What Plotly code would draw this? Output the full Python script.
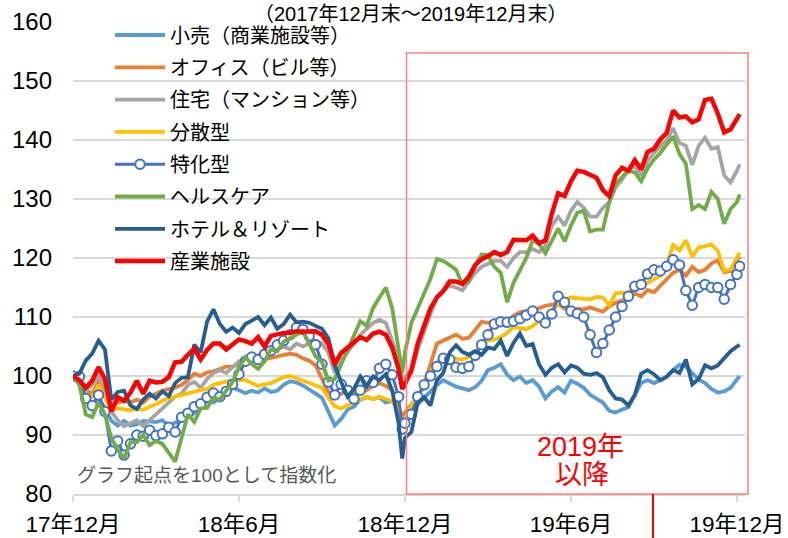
import pandas as pd
import plotly.graph_objects as go

# ---- dates (weekly, plus the Christmas 2018 low and the final day) ----
weekly = list(pd.date_range("2017-12-29", "2019-12-27", freq="W-FRI"))
dates = sorted(weekly + [pd.Timestamp("2018-12-25"), pd.Timestamp("2019-12-30")])

tick_dates = ["2017-12-29", "2018-06-29", "2018-12-28", "2019-06-28", "2019-12-27"]
tick_labels = ["17年12月", "18年6月", "18年12月", "19年6月", "19年12月"]

names = ["小売（商業施設等）", "オフィス（ビル等）", "住宅（マンション等）", "分散型",
         "特化型", "ヘルスケア", "ホテル＆リゾート", "産業施設"]
colors = ["#5B9BD5", "#ED7D31", "#A5A5A5", "#FFC000", "#4472C4", "#70AD47", "#255E91", "#FF0000"]

retail = [100, 98.8, 96.0, 94.4, 96.3, 94.6, 92.4, 91.6, 92.4, 91.6, 91.8, 92.4, 92.3, 92.2, 92.5, 91.6,
          92.1, 92.7, 93.1, 93.7, 94.7, 95.9, 95.5, 96.4, 97.0, 98.0, 97.6, 97.1, 97.5, 97.2, 97.9, 97.3,
          97.5, 98.5, 99.1, 98.9, 98.4, 97.6, 97.0, 96.3, 94.0, 91.6, 92.7, 94.3, 94.8, 96.0, 96.4, 96.1,
          96.4, 95.5, 95.8, 94.0, 92.2,
          92.8, 94.0, 95.2, 96.3, 97.6, 98.5, 99.3, 98.8, 98.2, 97.9, 97.6, 98.1, 99.2, 101.0, 101.4, 102.0,
          100.2, 99.3, 99.9, 98.8, 99.3, 98.2, 96.2, 97.4, 98.1, 97.2, 99.2, 98.7, 98.0, 96.8, 96.2, 95.5,
          94.1, 93.8, 94.3, 94.7, 96.8, 98.8, 99.3, 98.8, 99.3, 99.8, 101.0, 101.9, 101.6, 100.5, 99.4, 98.8,
          97.8, 97.2, 97.4, 98.0, 99.5, 100.0]

office = [100, 99.5, 97.5, 97.0, 99.0, 97.5, 95.0, 95.5, 95.8, 95.5, 96.0, 95.5, 96.5, 97.0, 97.5, 97.8,
          98.0, 98.5, 99.3, 100.4, 100.0, 100.6, 100.8, 101.2, 101.6, 101.6, 102.0, 103.2, 102.8, 102.5, 102.8, 103.0,
          103.3, 103.6, 103.8, 103.6, 103.0, 102.6, 101.8, 99.5, 97.3, 96.5, 97.0, 97.5, 97.3, 97.1, 97.6, 98.3,
          98.8, 98.3, 97.6, 95.0, 93.0,
          93.8, 95.2, 96.5, 98.5, 101.8, 105.5, 106.0, 106.5, 107.0, 106.3, 106.5, 107.8, 109.2, 109.0, 109.2, 109.1,
          109.2, 110.2, 110.8, 111.0, 111.2, 111.5, 111.9, 112.1, 112.3, 111.4, 111.3, 111.4, 111.3, 111.6, 111.2, 110.9,
          111.8, 112.4, 112.8, 113.2, 114.0, 113.5, 114.6, 114.2, 115.3, 116.4, 117.5, 118.0, 117.0, 118.5, 117.6, 118.0,
          119.1, 119.6, 117.6, 117.8, 119.5, 120.3]

residential = [100, 99.5, 97.5, 98.5, 100.0, 98.0, 94.0, 92.5, 91.5, 92.0, 92.5, 91.5, 92.5, 93.5, 94.5, 95.5,
               96.5, 97.0, 98.5, 99.0, 98.0, 99.5, 100.5, 101.0, 100.5, 101.5, 102.5, 103.0, 102.5, 103.5, 102.5, 104.0,
               104.5, 105.0, 104.5, 105.5, 105.0, 105.5, 106.0, 105.5, 104.0, 100.5, 102.5, 104.0, 105.5, 107.0, 108.0, 109.0,
               109.5, 109.0, 106.0, 102.5, 99.5,
               100.0, 100.5, 104.5, 107.5, 110.5, 113.5, 114.5, 115.3, 115.0, 114.5, 116.0, 117.5, 118.5, 119.0, 119.5, 119.5,
               118.5, 120.0, 121.0, 121.0, 121.5, 121.0, 122.0, 125.5, 127.0, 125.5, 128.0, 129.5, 128.5, 127.0, 127.0, 128.5,
               129.4, 132.0, 133.3, 135.0, 135.6, 134.0, 136.5, 137.8, 139.0, 140.0, 142.0, 139.5, 139.0, 135.8, 139.0, 140.4,
               138.5, 138.8, 134.0, 132.8, 134.8, 135.9]

diversified = [100, 99.0, 97.0, 96.5, 98.5, 96.5, 94.2, 94.5, 94.3, 94.2, 94.5, 94.3, 94.8, 95.2, 95.8, 96.3,
               96.5, 96.8, 97.0, 97.3, 97.6, 97.8, 98.5, 98.8, 99.0, 99.3, 99.3, 99.3, 98.8, 98.3, 98.6, 98.8,
               99.3, 99.8, 100.0, 99.6, 99.2, 98.8, 98.5, 98.0, 96.3, 94.9, 94.5, 95.0, 95.5, 96.0, 96.5, 96.1,
               96.5, 96.1, 95.8, 94.0, 92.0,
               92.8, 95.0, 96.5, 98.2, 100.8, 102.3, 103.3, 103.5, 102.9, 102.8, 103.2, 104.2, 105.2, 106.0, 106.2, 106.6,
               107.3, 108.3, 108.1, 107.9, 108.5, 109.3, 109.4, 110.5, 112.5, 113.0, 113.3, 113.2, 113.1, 113.0, 113.4, 113.3,
               112.0, 114.0, 114.1, 114.1, 115.2, 115.3, 115.8, 116.4, 117.0, 118.8, 122.2, 121.3, 123.0, 120.2, 121.8, 122.0,
               122.3, 121.2, 117.8, 118.1, 119.9, 120.9]

specialized = [100, 99.9, 96.2, 95.0, 96.8, 94.0, 87.3, 89.0, 86.6, 88.5, 90.0, 89.8, 90.8, 89.9, 90.2, 91.3,
               90.5, 93.0, 93.7, 94.8, 95.3, 96.4, 97.1, 96.5, 97.4, 98.6, 100.3, 102.5, 103.2, 102.8, 103.7, 104.3,
               105.3, 106.0, 107.0, 108.2, 107.9, 106.8, 105.3, 102.0, 99.0, 96.8, 98.6, 97.6, 96.1, 97.6, 99.2, 98.9,
               101.3, 102.0, 100.2, 96.5, 91.0,
               92.0, 93.5, 96.5, 98.5, 100.0, 101.6, 103.0, 102.8, 101.5, 101.3, 101.6, 103.5, 105.3, 107.0, 108.8, 109.2,
               109.1, 109.3, 109.7, 110.3, 111.0, 110.0, 109.0, 110.5, 113.5, 112.5, 111.0, 110.6, 110.0, 107.0, 104.0, 105.5,
               107.8, 110.0, 111.8, 113.5, 115.2, 115.5, 117.3, 118.0, 117.8, 118.6, 119.7, 118.8, 114.5, 112.0, 115.0, 115.5,
               115.0, 115.0, 113.0, 115.5, 117.2, 118.6]

healthcare = [100, 98.5, 93.5, 93.0, 95.5, 93.5, 89.5, 87.5, 86.0, 88.8, 88.8, 90.0, 88.3, 89.0, 88.5, 87.0,
              85.5, 89.5, 93.5, 92.2, 94.5, 94.6, 96.3, 96.0, 97.6, 99.0, 101.5, 103.2, 102.0, 101.2, 102.5, 104.5,
              104.2, 105.8, 106.4, 107.0, 107.6, 105.5, 103.3, 102.4, 99.2, 99.5, 102.0, 104.5, 107.0, 109.3, 108.5, 111.5,
              113.3, 115.0, 111.5, 105.0, 100.5,
              104.0, 109.0, 111.5, 114.0, 116.5, 119.8, 119.5, 118.8, 118.0, 115.5, 116.0, 118.8, 120.6, 120.5, 118.5, 117.5,
              112.5, 115.8, 118.0, 120.0, 123.0, 122.4, 120.8, 123.0, 125.0, 122.8, 125.5, 127.7, 128.0, 124.5, 124.8, 124.8,
              129.5, 132.6, 133.6, 134.8, 134.5, 133.0, 135.2, 136.7, 137.8, 139.2, 140.6, 137.6, 136.0, 128.3, 129.0, 128.3,
              131.2, 130.0, 125.8, 128.3, 129.5, 130.8]

hotel = [100, 100.4, 102.6, 103.8, 106.0, 104.5, 96.0, 97.3, 97.5, 95.0, 94.4, 96.0, 97.0, 96.2, 97.4, 96.6,
         98.8, 99.7, 99.8, 105.3, 104.0, 109.2, 111.3, 108.8, 107.5, 108.2, 107.3, 108.8, 109.4, 110.0, 108.6, 109.9,
         108.0, 108.8, 110.4, 109.1, 109.2, 109.0, 108.5, 108.0, 106.4, 101.8, 99.0, 96.5, 97.8, 99.9, 98.3, 99.9,
         99.3, 100.3, 97.5, 92.0, 86.0,
         89.5, 90.5, 95.5, 96.4, 95.0, 99.3, 100.5, 104.0, 105.2, 104.1, 103.6, 104.2, 103.6, 104.8, 104.6, 106.0,
         103.4, 105.6, 107.2, 105.1, 105.4, 102.0, 100.2, 101.4, 102.0, 100.6, 101.8, 101.4, 100.4, 100.2, 100.5, 99.8,
         97.6, 96.2, 96.0, 95.0, 96.8, 100.4, 101.0, 100.3, 99.3, 99.9, 101.0, 100.5, 102.8, 98.6, 99.5, 101.8,
         101.3, 101.8, 103.0, 104.2, 105.0, 105.3]

industrial = [100, 99.3, 98.0, 99.2, 101.5, 99.5, 94.0, 96.4, 95.8, 97.2, 99.2, 97.0, 99.2, 98.9, 99.0, 99.8,
              102.3, 102.4, 103.6, 104.6, 102.8, 104.4, 105.5, 105.5, 104.5, 105.4, 106.2, 105.9, 105.5, 106.6, 105.0, 106.8,
              107.0, 107.3, 107.3, 107.6, 107.5, 107.5, 107.6, 107.0, 105.4, 102.0, 103.9, 104.8, 105.6, 106.6, 106.1, 107.2,
              107.5, 107.0, 104.8, 101.2, 97.8,
              98.6, 101.0, 105.5, 108.5, 111.5, 113.3, 114.4, 116.0, 116.0, 115.6, 116.8, 118.8, 119.8, 120.3, 121.0, 120.5,
              121.0, 123.1, 123.0, 123.0, 123.8, 122.5, 123.0, 127.5, 131.0, 130.5, 133.0, 134.8, 134.6, 134.0, 133.6, 131.5,
              130.5, 134.0, 135.3, 134.8, 136.6, 135.0, 138.0, 138.5, 140.1, 141.2, 145.0, 143.8, 144.0, 143.0, 143.5, 146.8,
              147.0, 144.5, 141.3, 141.8, 143.5, 144.4]

series = [retail, office, residential, diversified, specialized, healthcare, hotel, industrial]
for n, s in zip(names, series):
    if len(s) != len(dates):
        raise ValueError(f"{n}: {len(s)} values vs {len(dates)} dates")

FONT = "Liberation Sans, Noto Sans CJK JP, sans-serif"

fig = go.Figure()
for k, (n, s, c) in enumerate(zip(names, series, colors)):
    if n == "特化型":
        fig.add_trace(go.Scatter(
            x=dates, y=s, name=n, mode="lines+markers", legendgroup=f"g{k}",
            line=dict(color=c, width=3),
            marker=dict(symbol="circle", size=9.5, color="white", line=dict(color=c, width=2)),
        ))
    else:
        fig.add_trace(go.Scatter(
            x=dates, y=s, name=n, mode="lines", legendgroup=f"g{k}",
            line=dict(color=c, width=4.5 if n == "産業施設" else 3.8),
        ))

def px_x(px):
    return (px - 73) / 672.0

def px_y(py):
    return (494 - py) / 472.0

shapes = [
    # white area behind the legend (covers gridlines)
    dict(type="rect", xref="paper", yref="paper", x0=px_x(78), x1=px_x(404), y0=px_y(285), y1=1.0,
         fillcolor="white", line=dict(width=0), layer="between"),
    # red box marking 2019
    dict(type="rect", xref="paper", yref="paper", x0=px_x(406.5), x1=px_x(748), y0=0, y1=px_y(53),
         fillcolor="rgba(0,0,0,0)", line=dict(color="#FF7F7F", width=1.5), layer="above"),
    # red vertical marker below axis
    dict(type="line", xref="paper", yref="paper", x0=px_x(653), x1=px_x(653), y0=0, y1=px_y(540),
         line=dict(color="#FF0000", width=2), layer="above"),
]

annotations = [
    dict(text="（2017年12月末～2019年12月末）", xref="paper", yref="paper", x=px_x(410), y=px_y(14),
         xanchor="center", yanchor="middle", showarrow=False, font=dict(family=FONT, size=20, color="black")),
    dict(text="グラフ起点を100として指数化", xref="paper", yref="paper", x=px_x(74.5), y=px_y(475),
         xanchor="left", yanchor="middle", showarrow=False, font=dict(family=FONT, size=19, color="#595959")),
    dict(text="2019年", xref="paper", yref="paper", x=px_x(580), y=px_y(447),
         xanchor="center", yanchor="middle", showarrow=False, font=dict(family=FONT, size=27, color="#FF0000")),
    dict(text="以降", xref="paper", yref="paper", x=px_x(582), y=px_y(475),
         xanchor="center", yanchor="middle", showarrow=False, font=dict(family=FONT, size=27, color="#FF0000")),
]

fig.update_layout(
    width=788, height=538,
    margin=dict(l=73, r=43, t=22, b=44, autoexpand=False),
    paper_bgcolor="white", plot_bgcolor="white",
    font=dict(family=FONT, size=24, color="black"),
    shapes=shapes, annotations=annotations,
    legend=dict(
        x=px_x(110), y=px_y(15.5), xanchor="left", yanchor="top",
        bgcolor="rgba(255,255,255,0)", borderwidth=0,
        font=dict(family=FONT, size=20, color="black"),
        tracegroupgap=3.3, itemwidth=50, traceorder="grouped",
    ),
    xaxis=dict(
        type="date", range=["2017-12-29", "2020-01-04 20:00"],
        tickvals=tick_dates, ticktext=tick_labels,
        showgrid=False, zeroline=False, automargin=False,
        showline=True, linecolor="#D9D9D9", linewidth=1.5,
        ticks="outside", tickcolor="#D9D9D9", tickwidth=1.5, ticklen=6,
        ticklabelstandoff=3,
        tickfont=dict(family=FONT, size=22.5, color="black"),
    ),
    yaxis=dict(
        range=[80, 160], dtick=10, tick0=80, automargin=False,
        showgrid=True, gridcolor="#D9D9D9", gridwidth=1.5,
        zeroline=False, showline=False, ticks="",
        ticklabelstandoff=20,
        tickfont=dict(family=FONT, size=24, color="black"),
    ),
)

fig.write_html("out.html", config={"displayModeBar": False},
               post_script="document.body.style.margin='0px';")
